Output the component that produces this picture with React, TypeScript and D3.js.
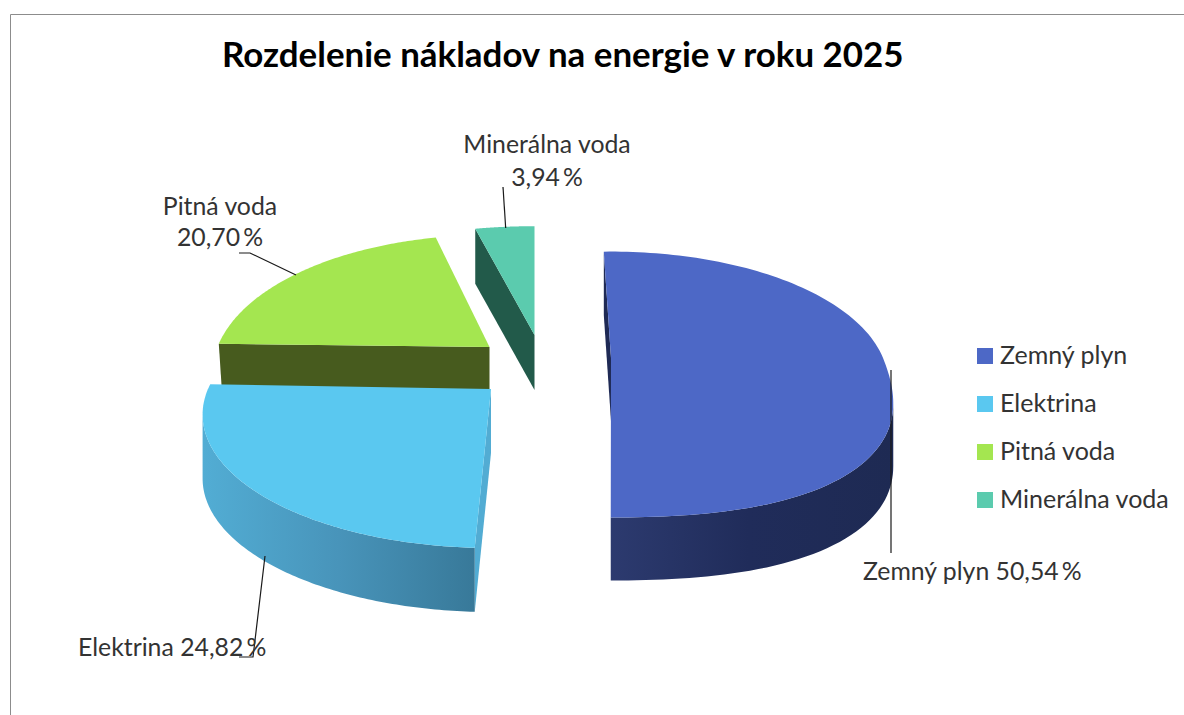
import * as d3 from 'd3';

const TITLE = 'Rozdelenie nákladov na energie v roku 2025';
const CATEGORIES = ['Zemný plyn', 'Elektrina', 'Pitná voda', 'Minerálna voda'];
const VALUES = [50.54, 24.82, 20.7, 3.94];
const TOP_COLORS = ['#4d68c6', '#5ac8f0', '#a4e650', '#5bcbae'];
const WALL_COLORS = ['#1f2a55', '#52acd3', '#475b1e', '#225a4a'];
const RIM_STOPS = [
  ['#2d3b70', '#202c5a', '#1e2a53'],
  ['#52add4', '#4894ba', '#387999'],
  ['#475b1e', '#475b1e', '#475b1e'],
  ['#225a4a', '#225a4a', '#225a4a'],
];

// every slice is exploded on its own, so each has its own ellipse
const SLICE_GEO = [
  { cx: 611, cy: 358, rx: 272, ry: 133, depth: 63, rot: -1.9, shrink: 1, bulge: 0.08 },
  { cx: 491, cy: 389, rx: 283, ry: 132.5, depth: 64, rot: 0.8, shrink: 1, bulge: 0 },
  { cx: 489.5, cy: 347, rx: 272, ry: 140, depth: 45, rot: 0, shrink: 0.989, bulge: 0 },
  { cx: 534.5, cy: 335, rx: 300, ry: 136, depth: 55, rot: 0, shrink: 1, bulge: 0 },
];
const PERSPECTIVE = 0.2;
const DRAW_ORDER = [2, 3, 0, 1];

const LEADERS: [number, number][][] = [
  [[891, 370], [891, 553]],
  [[265, 556], [253, 657], [239, 657]],
  [[239, 253], [250, 253], [296, 275]],
  [[503, 187], [505.7, 228]],
];

const fmtPct = (v: number) => d3.format('.2f')(v).replace('.', ',') + '\u2009%';

const FONT = 'Lato, "Open Sans", sans-serif';

export default function App() {
  const arcs = d3.pie<number>().sort(null)(VALUES);
  const legendY = d3.scaleLinear().domain([0, 3]).range([356, 500]);
  const line = d3.line();

  const project = (i: number, deg: number, drop = 0): [number, number] => {
    const g = SLICE_GEO[i];
    const a = ((deg + g.rot) * Math.PI) / 180;
    const cos = Math.cos(a);
    // near side is drawn larger, and the front of the big slice is a bit boxier than an ellipse
    const box = cos < 0 ? 1 + g.bulge * Math.sin(2 * a) ** 2 : 1;
    const s = (1 - PERSPECTIVE * cos) * box;
    const k = drop ? g.shrink : 1;
    return [g.cx + g.rx * Math.sin(a) * s * k, g.cy - g.ry * cos * s * k + drop];
  };

  const slices = DRAW_ORDER.map(i => {
    const g = SLICE_GEO[i];
    const a0 = (arcs[i].startAngle * 180) / Math.PI;
    const a1 = (arcs[i].endAngle * 180) / Math.PI;
    const steps = d3.quantize(d3.interpolateNumber(a0, a1), 120);
    const rimTop = steps.map(d => project(i, d));
    // the outer wall only shows where the rim runs right to left (the front of the pie)
    const front = steps.filter(
      (d, j) =>
        (j > 0 && rimTop[j][0] < rimTop[j - 1][0]) ||
        (j < steps.length - 1 && rimTop[j + 1][0] < rimTop[j][0])
    );
    const frontTop = front.map(d => project(i, d));
    const frontBase = front.map(d => project(i, d, g.depth));
    const apex: [number, number] = [g.cx, g.cy];
    const apexBase: [number, number] = [g.cx, g.cy + g.depth];
    const xs = rimTop.map(p => p[0]);
    return {
      i,
      top: line([apex, ...rimTop])! + 'Z',
      rim: front.length ? line([...frontTop, ...frontBase.slice().reverse()])! + 'Z' : null,
      wall: line([apex, rimTop[0], project(i, a0, g.depth), apexBase])! + 'Z',
      x0: d3.min(xs)!,
      x1: d3.max(xs)!,
    };
  });

  return (
    <svg
      width={1184}
      height={715}
      style={{ position: 'absolute', left: 0, top: 0, background: '#fff', fontFamily: FONT }}
    >
      <defs>
        {slices.map(s => (
          <linearGradient
            key={s.i}
            id={`rim${s.i}`}
            gradientUnits="userSpaceOnUse"
            x1={s.x0}
            x2={s.x1}
            y1={0}
            y2={0}
          >
            {RIM_STOPS[s.i].map((c, j) => (
              <stop key={j} offset={j / 2} stopColor={c} />
            ))}
          </linearGradient>
        ))}
      </defs>

      {/* chart frame, cut off by the screenshot on the right and bottom */}
      <path d="M10.5,715V14.5H1184" fill="none" stroke="#8c8c8c" strokeWidth={1} />

      <text x={222} y={67} fontSize={34.9} fontWeight={700} fill="#000">
        {TITLE}
      </text>

      {slices.map(s => (
        <g key={s.i}>
          <path d={s.wall} fill={WALL_COLORS[s.i]} />
          {s.rim && <path d={s.rim} fill={`url(#rim${s.i})`} />}
          <path d={s.top} fill={TOP_COLORS[s.i]} />
        </g>
      ))}

      {LEADERS.map((pts, i) => (
        <path key={i} d={line(pts)!} fill="none" stroke="#1a1a1a" strokeWidth={1.2} />
      ))}

      <g fontSize={24.8} fill="#333">
        <text x={863} y={580}>{`${CATEGORIES[0]} ${fmtPct(VALUES[0])}`}</text>
        <text x={78} y={656}>{`${CATEGORIES[1]} ${fmtPct(VALUES[1])}`}</text>
        <text x={220} y={215} textAnchor="middle">{CATEGORIES[2]}</text>
        <text x={220} y={246} textAnchor="middle">{fmtPct(VALUES[2])}</text>
        <text x={547} y={153} textAnchor="middle">{CATEGORIES[3]}</text>
        <text x={547} y={186} textAnchor="middle">{fmtPct(VALUES[3])}</text>
      </g>

      <g fontSize={25} fill="#333">
        {CATEGORIES.map((c, i) => (
          <g key={c}>
            <rect x={977} y={legendY(i) - 8} width={16} height={16} fill={TOP_COLORS[i]} />
            <text x={1000} y={legendY(i) + 7.5}>{c}</text>
          </g>
        ))}
      </g>
    </svg>
  );
}
